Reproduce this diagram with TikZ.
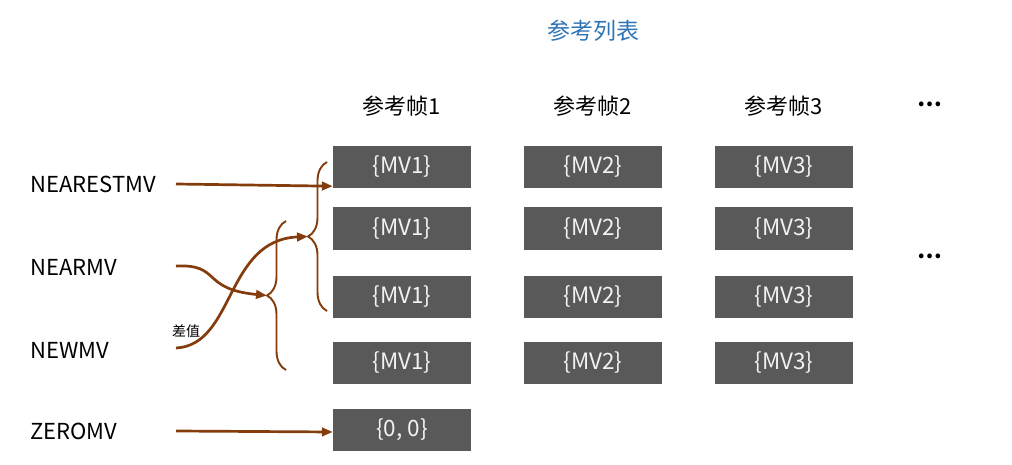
\documentclass[tikz,border=0pt]{standalone}
\usepackage{fontspec}
\setmainfont{Noto Sans CJK SC}
\usetikzlibrary{arrows.meta,decorations.pathreplacing}

\definecolor{mvgray}{RGB}{89, 89, 89}
\definecolor{mvbrown}{RGB}{132, 60, 12}
\definecolor{mvblue}{RGB}{46, 117, 182}
\definecolor{mvtext}{RGB}{242, 242, 242}

\begin{document}
\begin{tikzpicture}[
    x=1pt, y=-1pt,
    mvbox/.style={fill=mvgray, text=mvtext, minimum width=138pt, minimum height=42pt,
      inner sep=0pt, font=\fontsize{22.5}{26}\selectfont},
    head/.style={font=\fontsize{22}{26}\selectfont},
    mode/.style={anchor=west, inner sep=0pt, font=\fontsize{22}{26}\selectfont},
    mvarrow/.style={draw=mvbrown, line width=2.7pt, -{Triangle[length=11pt, width=8.5pt]}},
    mvbrace/.style={draw=mvbrown, line width=1.9pt, decorate,
      decoration={brace, amplitude=19pt}},
  ]
    \useasboundingbox (0, 0) rectangle (1012, 465);

    % --- title and reference frame headers ---
    \node[head, text=mvblue, font=\fontsize{23}{26}\selectfont] (title) at (593, 31) {参考列表};
    \foreach \c/\cx in {1/402, 2/593, 3/784} {
      \node[head] (h\c) at (\cx, 106) {参考帧\c};
      % 4 candidate boxes per frame
      \foreach \r/\ry in {1/167, 2/228.5, 3/296.5, 4/362.5} {
        \node[mvbox] (f\c r\r) at (\cx, \ry) {\{MV\c\}};
      }
    }
    \node[mvbox] (zero) at (402, 429.5) {\{0, 0\}};
    \node[head, font=\fontsize{22}{25}\bfseries] (dots1) at (930, 104) {…};
    \node[head, font=\fontsize{22}{25}\bfseries] (dots2) at (930, 256) {…};

    % --- prediction modes on the left ---
    \node[mode] (nearest) at (30, 184) {NEARESTMV};
    \node[mode] (near) at (30, 267) {NEARMV};
    \node[mode] (new) at (30, 350) {NEWMV};
    \node[mode] (zeromv) at (30, 431) {ZEROMV};
    \node[font=\fontsize{14}{16}\selectfont] (diff) at (186, 331) {差值};

    % --- braces: NEARMV -> rows 2..4, NEWMV -> rows 1..3 ---
    \draw[mvbrace] (286, 370) -- (286, 221);
    \draw[mvbrace] (327, 311) -- (327, 162);
    \coordinate (nearTip) at (267, 295.5);
    \coordinate (newTip) at (308, 236.5);

    % --- connectors ---
    \coordinate (s1) at (176, 184);
    \coordinate (s2) at (176, 266);
    \coordinate (s3) at (176, 348);
    \coordinate (s4) at (176, 431);
    \draw[mvarrow] (s1) -- ([yshift=2pt]f1r1.south west);
    \draw[mvarrow] (s2) .. controls (222, 264) and (200, 289) .. (nearTip);
    \draw[mvarrow] (s3) .. controls (235, 345) and (225, 240) .. (newTip);
    \draw[mvarrow] (s4) -- ([yshift=-2.5pt]zero.west);
\end{tikzpicture}
\end{document}
